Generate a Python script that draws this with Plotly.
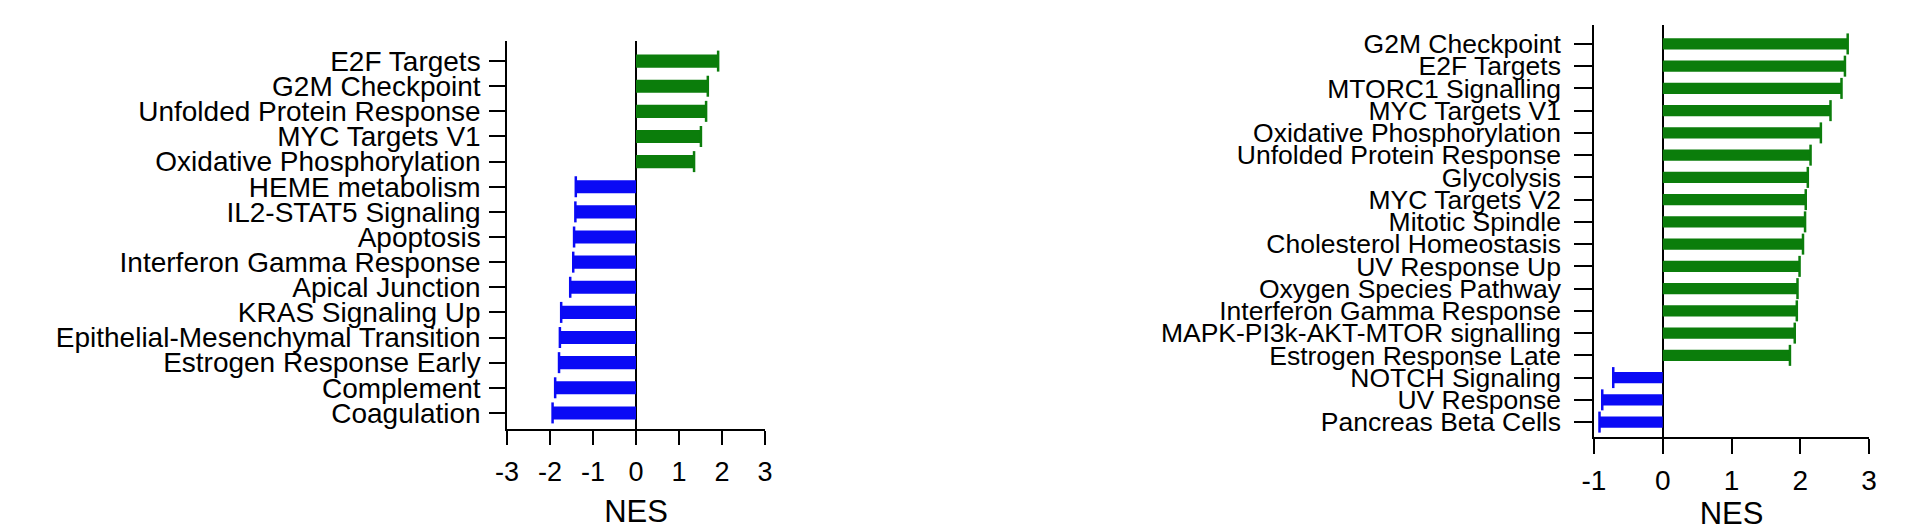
import plotly.graph_objects as go

# ---------------- data ----------------
left_pathways = [
    "E2F Targets", "G2M Checkpoint", "Unfolded Protein Response", "MYC Targets V1",
    "Oxidative Phosphorylation", "HEME metabolism", "IL2-STAT5 Signaling", "Apoptosis",
    "Interferon Gamma Response", "Apical Junction", "KRAS Signaling Up",
    "Epithelial-Mesenchymal Transition", "Estrogen Response Early", "Complement", "Coagulation",
]
left_nes = [1.91, 1.67, 1.63, 1.51, 1.35, -1.40, -1.41, -1.44, -1.46, -1.53,
            -1.74, -1.77, -1.79, -1.88, -1.94]

right_pathways = [
    "G2M Checkpoint", "E2F Targets", "MTORC1 Signalling", "MYC Targets V1",
    "Oxidative Phosphorylation", "Unfolded Protein Response", "Glycolysis", "MYC Targets V2",
    "Mitotic Spindle", "Cholesterol Homeostasis", "UV Response Up", "Oxygen Species Pathway",
    "Interferon Gamma Response", "MAPK-PI3k-AKT-MTOR signalling", "Estrogen Response Late",
    "NOTCH Signaling", "UV Response", "Pancreas Beta Cells",
]
right_nes = [2.69, 2.65, 2.60, 2.44, 2.30, 2.15, 2.11, 2.08, 2.07, 2.04, 1.99, 1.96,
             1.95, 1.92, 1.85, -0.72, -0.88, -0.92]

left_xticks = [-3, -2, -1, 0, 1, 2, 3]
left_xticktext = ["-3", "-2", "-1", "0", "1", "2", "3"]
right_xticks = [-1, 0, 1, 2, 3]
right_xticktext = ["-1", "0", "1", "2", "3"]
x_title = "NES"

GREEN = "#0b7d0b"
BLUE = "#0a0af5"

W, H = 1920, 532


def colors(vals):
    return [GREEN if v > 0 else BLUE for v in vals]


fig = go.Figure()

for vals, cats, xa, ya, bw in [
    (left_nes, left_pathways, "x", "y", 0.52),
    (right_nes, right_pathways, "x2", "y2", 0.5),
]:
    fig.add_trace(go.Bar(
        x=vals, y=cats, orientation="h", xaxis=xa, yaxis=ya,
        marker=dict(color=colors(vals), line=dict(width=0)), width=bw,
        showlegend=False, hoverinfo="x+y",
    ))
    # small end caps at bar tips, coloured like the bars
    for col in (GREEN, BLUE):
        xs = [v for v in vals if (v > 0) == (col == GREEN)]
        ys = [c for v, c in zip(vals, cats) if (v > 0) == (col == GREEN)]
        fig.add_trace(go.Scatter(
            x=xs, y=ys, mode="markers", xaxis=xa, yaxis=ya,
            marker=dict(symbol="line-ns", size=15, line=dict(color=col, width=2.5)),
            showlegend=False, hoverinfo="skip",
        ))


def px2paper_x(p):
    return p / W


def px2paper_y(p):
    return (H - p) / H


FONT = "Liberation Sans, Arial, Helvetica, sans-serif"

axis_common = dict(showgrid=False, showline=True, linecolor="black", linewidth=1.5,
                   ticks="outside", tickcolor="black", tickwidth=1.5, automargin=False)

fig.update_layout(
    template="none",
    width=W, height=H,
    margin=dict(l=0, r=0, t=0, b=0, pad=0),
    paper_bgcolor="white", plot_bgcolor="white",
    xaxis=dict(domain=[px2paper_x(507), px2paper_x(765)], anchor="y",
               range=[-3, 3], tickmode="array", tickvals=left_xticks,
               ticktext=left_xticktext, ticklen=14, ticklabelstandoff=4,
               zeroline=True, zerolinecolor="black", zerolinewidth=1.5,
               tickfont=dict(family=FONT, size=27, color="black"),
               title=dict(text=x_title, font=dict(family=FONT, size=31, color="black"),
                          standoff=14),
               **axis_common),
    yaxis=dict(domain=[px2paper_y(429), px2paper_y(41)], anchor="x",
               type="category", categoryorder="array", categoryarray=left_pathways,
               tickmode="array", tickvals=left_pathways, ticktext=left_pathways,
               range=[len(left_pathways) - 1 + 0.64, -0.8],
               ticklen=16, ticklabelstandoff=3,
               tickfont=dict(family=FONT, size=28, color="black"),
               **axis_common),
    xaxis2=dict(domain=[px2paper_x(1594), px2paper_x(1869)], anchor="y2",
                range=[-1, 3], tickmode="array", tickvals=right_xticks,
                ticktext=right_xticktext, ticklen=15, ticklabelstandoff=3,
                zeroline=True, zerolinecolor="black", zerolinewidth=1.5,
                tickfont=dict(family=FONT, size=28, color="black"),
                title=dict(text=x_title, font=dict(family=FONT, size=31, color="black"),
                           standoff=4),
                **axis_common),
    yaxis2=dict(domain=[px2paper_y(437), px2paper_y(25)], anchor="x2",
                type="category", categoryorder="array", categoryarray=right_pathways,
                tickmode="array", tickvals=right_pathways, ticktext=right_pathways,
                range=[len(right_pathways) - 1 + 0.67, -0.85],
                ticklen=18, ticklabelstandoff=8,
                tickfont=dict(family=FONT, size=26.5, color="black"),
                **axis_common),
)

fig.write_html("out.html",
               config={"displayModeBar": False},
               post_script="document.body.style.margin='0';document.body.style.overflow='hidden';")
